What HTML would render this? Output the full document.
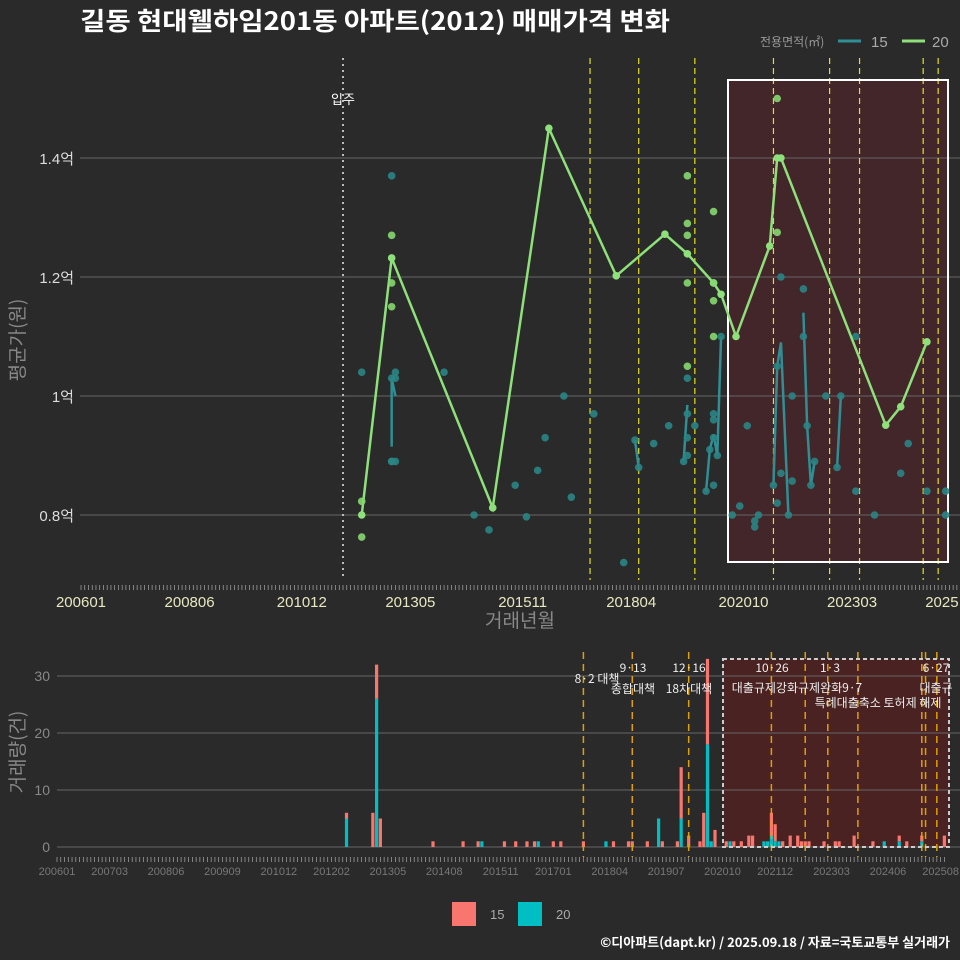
<!DOCTYPE html>
<html><head><meta charset="utf-8"><style>
html,body{margin:0;padding:0;background:#2a2a2a;}
svg{display:block;font-family:"Liberation Sans","Noto Sans CJK KR",sans-serif;}
</style></head><body>
<svg id="c" width="960" height="960" viewBox="0 0 960 960" xmlns="http://www.w3.org/2000/svg">
<rect width="960" height="960" fill="#2a2a2a"/>
<text x="80" y="30" fill="#ffffff" font-size="25" font-weight="bold" textLength="590" lengthAdjust="spacingAndGlyphs" font-family="'Noto Sans CJK KR',sans-serif">길동 현대웰하임201동 아파트(2012) 매매가격 변화</text>
<g>
<text x="760" y="46" fill="#999" font-size="12" font-family="'Noto Sans CJK KR',sans-serif">전용면적(㎡)</text>
<line x1="838" y1="41" x2="861" y2="41" stroke="#2f8f94" stroke-width="3"/>
<text x="871" y="47" fill="#aaa" font-size="15">15</text>
<line x1="902" y1="41" x2="925" y2="41" stroke="#8ee07a" stroke-width="3"/>
<text x="932" y="47" fill="#aaa" font-size="15">20</text>
</g>
<text transform="translate(24,340) rotate(-90)" text-anchor="middle" fill="#888" font-size="19" font-family="'Noto Sans CJK KR',sans-serif">평균가(원)</text>
<text x="520" y="627" text-anchor="middle" fill="#888" font-size="19" font-family="'Noto Sans CJK KR',sans-serif">거래년월</text>
<text transform="translate(24,752) rotate(-90)" text-anchor="middle" fill="#888" font-size="19" font-family="'Noto Sans CJK KR',sans-serif">거래량(건)</text>
<g>
<rect x="452" y="902" width="24" height="24" fill="#f8766d"/>
<text x="490" y="919" fill="#aaa" font-size="13">15</text>
<rect x="518" y="902" width="24" height="24" fill="#00bfc4"/>
<text x="556" y="919" fill="#aaa" font-size="13">20</text>
</g>
<text x="950" y="947" text-anchor="end" fill="#fff" font-size="13" font-weight="bold" font-family="'Noto Sans CJK KR',sans-serif">©디아파트(dapt.kr) / 2025.09.18 / 자료=국토교통부 실거래가</text>
<g id="topg"></g><g id="botg"></g>
</svg>
<script>
// ---- data ----
const yTicks = [0.8, 1.0, 1.2, 1.4];
const yTickLabels = ["0.8억", "1억", "1.2억", "1.4억"];
const xTickMonths = ["200601","200806","201012","201305","201511","201804","202010","202303","202503"];
const xTickLabels = ["200601","200806","201012","201305","201511","201804","202010","202303","2025"];
const bxTickMonths = ["200601","200703","200806","200909","201012","201202","201305","201408","201511","201701","201804","201907","202010","202112","202303","202406","202508"];
const lineMonths20 = ["201204","201212","201503","201606","201712","201901","201907","202002","202004","202008","202105","202107","202108","202312","202404","202411"];
const lineValues20 = [0.80,1.232,0.812,1.45,1.202,1.272,1.239,1.19,1.171,1.10,1.252,1.40,1.40,0.951,0.982,1.091];
const dotMonths20 = ["201204","201204","201212","201212","201212","201907","201907","201907","201907","201907","202002","202002","202002","202002","202107","202107"];
const dotValues20 = [0.823,0.763,1.27,1.19,1.15,1.37,1.29,1.27,1.19,1.05,1.31,1.19,1.16,1.10,1.50,1.275];
const dotMonths15 = ["201204","201212","201212","201301","201212","201212","201301","201301","201402","201410","201502","201509","201512","201603","201605","201610","201612","201706","201802","201805","201806","201810","201902","201907","201907","201907","201907","201906","201909","202002","202002","202002","202001","202003","201912","202002","202004","202007","202009","202011","202101","202101","202102","202106","202107","202107","202108","202108","202110","202111","202111","202202","202202","202203","202204","202205","202208","202212","202211","202304","202304","202309","202404","202406","202411","202504","202504"];
const dotValues15 = [1.04,1.37,1.03,1.04,0.89,0.89,0.89,1.03,1.04,0.80,0.775,0.85,0.797,0.875,0.93,1.0,0.83,0.97,0.72,0.926,0.88,0.92,0.95,1.03,0.97,0.93,0.90,0.89,0.95,0.97,0.96,0.93,0.91,0.90,0.84,0.85,1.10,0.80,0.815,0.95,0.78,0.79,0.80,0.85,1.05,0.82,0.87,1.20,0.80,1.0,0.857,1.18,1.10,0.95,0.85,0.89,1.0,1.0,0.88,1.10,0.84,0.80,0.87,0.92,0.84,0.84,0.80];
const segMonths15 = [["201212","201212","201301"],["201805","201806"],["201906","201907"],["201912","202001","202002","202003","202004"],["202106","202107","202108","202110"],["202202","202203","202204","202205"],["202211","202212"]];
const segValues15 = [[0.915,1.03,1.0],[0.926,0.88],[0.89,0.985],[0.84,0.91,0.935,0.90,1.10],[0.85,1.05,1.09,0.80],[1.14,0.95,0.85,0.89],[0.88,1.0]];
const topEvents = ["201705","201806","201909","202106","202209","202305","202410","202502"];
const moveIn = "201111";
const barMonths15 = ["201206","201301","201302","201303","201405","201501","201505","201512","201603","201606","201608","201701","201703","201709","201805","201809","201810","201902","201906","201910","201911","202001","202004","202005","202006","202008","202011","202101","202103","202105","202106","202111","202112","202202","202204","202206","202207","202208","202209","202301","202304","202305","202309","202402","202409","202411","202503","202509"];
const barCounts15 = [1,6,6,5,1,1,1,1,1,1,1,1,1,1,1,1,1,1,1,1,9,2,1,6,15,3,1,1,1,2,2,4,3,1,2,2,1,1,1,1,1,1,2,1,1,1,1,2];
const barMonths20 = ["201206","201302","201506","201609","201803","201905","201911","202006","202007","202012","202109","202110","202111","202112","202201","202405","202409","202503"];
const barCounts20 = [5,26,1,1,1,5,5,18,1,1,1,1,2,1,1,1,1,1];
const bTicks = [0,10,20,30];
const botEvents = ["201709","201810","202001","202111","202208","202302","202310","202503","202504","202507"];

// ---- helpers ----
const NS="http://www.w3.org/2000/svg";
function mi(s){return (parseInt(s.slice(0,4))-2006)*12+parseInt(s.slice(4,6))-1;}
function X(s){return 81+mi(s)*3.743;}
function Y(v){return 396-(v-1)*595;}
function BX(s){return 57+mi(s)*3.76;}
function BY(c){return 847-c*5.7;}
function mk(p,tag,at){const e=document.createElementNS(NS,tag);for(const k in at)e.setAttribute(k,at[k]);p.appendChild(e);return e;}
const topG=document.getElementById('topg'), botG=document.getElementById('botg');

// ---- top chart ----
let el;
el=mk(topG,'rect',{x:728,y:80,width:220,height:482,fill:'#42262a'});


yTicks.forEach((v,i)=>{
  el=mk(topG,'line',{x1:80,x2:960,y1:Y(v),y2:Y(v),stroke:'#666','stroke-width':1});
  
  
  el=mk(topG,'text',{x:74,y:Y(v)+6,'text-anchor':'end',fill:'#ddd','font-size':15,'font-family':"'Liberation Sans','Noto Sans CJK KR',sans-serif"});
  el.textContent=yTickLabels[i];
  
  
});
for(let m=0;m<=236;m++){
  el=mk(topG,'line',{x1:81+m*3.743,x2:81+m*3.743,y1:585,y2:590,stroke:'#aaa','stroke-width':0.7});
  
  
}
xTickMonths.forEach((s,i)=>{
  el=mk(topG,'text',{x:X(s),y:607,'text-anchor':'middle',fill:'#e8e8c0','font-size':15});
  el.textContent=xTickLabels[i];
  
  
});
el=mk(topG,'line',{x1:X(moveIn),x2:X(moveIn),y1:58,y2:580,stroke:'#bbb','stroke-width':2,'stroke-dasharray':'2 4'});


el=mk(topG,'text',{x:X(moveIn),y:104,'text-anchor':'middle',fill:'#fff','font-size':13,'font-family':"'Noto Sans CJK KR',sans-serif"});
el.textContent='입주';


topEvents.forEach(s=>{
  el=mk(topG,'line',{x1:X(s),x2:X(s),y1:58,y2:580,stroke:'#e5e01a','stroke-width':1.2,'stroke-dasharray':'6 4'});
  
  
});
el=mk(topG,'rect',{x:728,y:80,width:220,height:482,fill:'none',stroke:'#fff','stroke-width':2});


segMonths15.forEach((ms,j)=>{
  el=mk(topG,'polyline',{points:ms.map((s,i)=>X(s)+','+Y(segValues15[j][i])).join(' '),fill:'none',stroke:'#2f8f94','stroke-width':2.5});
  
  
});
dotMonths15.forEach((s,i)=>{
  el=mk(topG,'circle',{cx:X(s),cy:Y(dotValues15[i]),r:3.8,fill:'#2a8585','fill-opacity':0.9});
  
  
});
el=mk(topG,'polyline',{points:lineMonths20.map((s,i)=>X(s)+','+Y(lineValues20[i])).join(' '),fill:'none',stroke:'#8ee07a','stroke-width':2.5});


lineMonths20.forEach((s,i)=>{
  el=mk(topG,'circle',{cx:X(s),cy:Y(lineValues20[i]),r:3.8,fill:'#8ee07a'});
  
  
});
dotMonths20.forEach((s,i)=>{
  el=mk(topG,'circle',{cx:X(s),cy:Y(dotValues20[i]),r:3.8,fill:'#86d870','fill-opacity':0.9});
  
  
});

// ---- bottom chart ----
el=mk(botG,'rect',{x:723,y:659,width:226,height:188,fill:'#4a2222'});


bTicks.forEach(v=>{
  el=mk(botG,'line',{x1:57,x2:960,y1:BY(v),y2:BY(v),stroke:'#666','stroke-width':1});
  
  
  el=mk(botG,'text',{x:50,y:BY(v)+5,'text-anchor':'end',fill:'#888','font-size':14});
  el.textContent=v;
  
  
});
for(let m=0;m<=236;m++){
  el=mk(botG,'line',{x1:57+m*3.76,x2:57+m*3.76,y1:857,y2:862,stroke:'#aaa','stroke-width':0.7});
  
  
}
bxTickMonths.forEach(s=>{
  el=mk(botG,'text',{x:BX(s),y:875,'text-anchor':'middle',fill:'#777','font-size':11});
  el.textContent=s;
  
  
});
const c20={};
barMonths20.forEach((s,i)=>{c20[s]=barCounts20[i];
  el=mk(botG,'rect',{x:BX(s)-1.6,y:BY(barCounts20[i]),width:3.2,height:barCounts20[i]*5.7,fill:'#00bfc4'});
  
  
});
barMonths15.forEach((s,i)=>{const base=c20[s]||0;
  el=mk(botG,'rect',{x:BX(s)-1.6,y:BY(base+barCounts15[i]),width:3.2,height:barCounts15[i]*5.7,fill:'#f8766d'});
  
  
});
botEvents.forEach(s=>{
  el=mk(botG,'line',{x1:BX(s),x2:BX(s),y1:652,y2:857,stroke:'#e0a000','stroke-width':1.5,'stroke-dasharray':'7 5'});
  
  
});
el=mk(botG,'rect',{x:723,y:659,width:226,height:188,fill:'none',stroke:'#ccc','stroke-width':2,'stroke-dasharray':'4 3'});


const labs=[[597,683,'8·2 대책'],[633,672,'9·13'],[633,693,'종합대책'],[689,672,'12·16'],[689,693,'18차대책'],[772,672,'10·26'],[830,672,'1·3'],[797,692,'대출규제강화규제완화9·7'],[878,707,'특례대출축소 토허제 해제'],[936,672,'6·27'],[936,692,'대출규']];
labs.forEach(a=>{
  el=mk(botG,'text',{x:a[0],y:a[1],'text-anchor':'middle',fill:'#eee','font-size':12,'font-family':"'Noto Sans CJK KR',sans-serif"});
  el.textContent=a[2];
  
  
});
</script>
</body></html>
